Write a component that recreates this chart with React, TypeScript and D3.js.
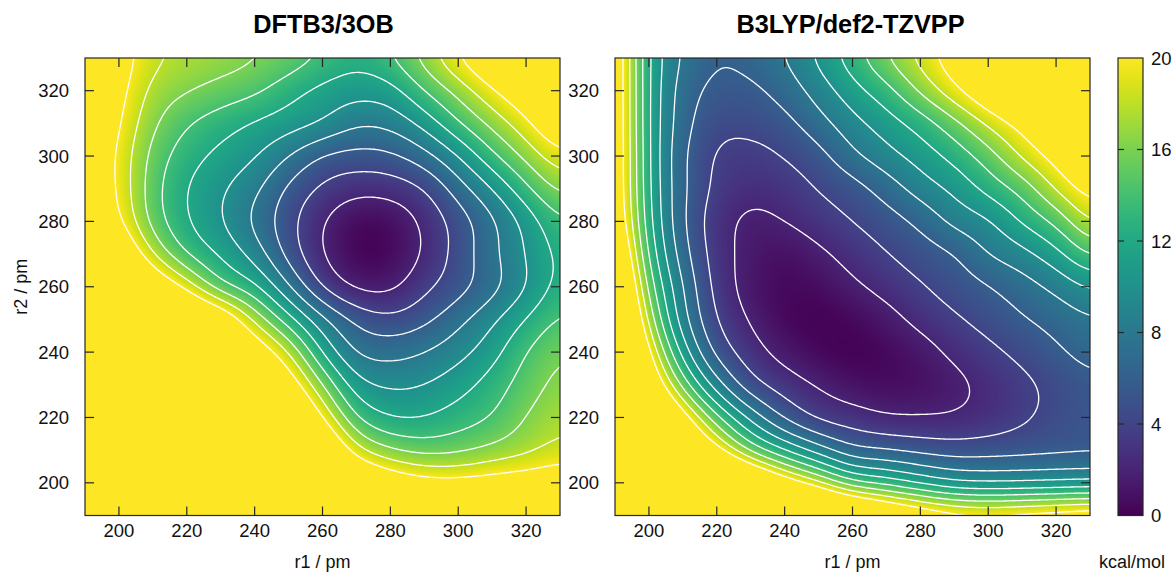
import React, { useMemo } from "react";
import * as d3 from "d3";

// ---------- data ----------
const R1_START = 190; // column 0 (pm)
const R2_START = 330; // row 0 (pm)
const GRID_STEP = 10; // pm
const AXIS_TICKS = [200, 220, 240, 260, 280, 300, 320];
const COLORBAR_TICKS = [0, 4, 8, 12, 16, 20];
const CONTOUR_LEVELS = [2, 4, 6, 8, 10, 12, 14, 16, 18, 20];
const PANEL_TITLES = ["DFTB3/3OB", "B3LYP/def2-TZVPP"];

// energies in kcal/mol; rows r2 = 330 ... 190, columns r1 = 190 ... 330
const DFTB3_ENERGY = [
  [26, 21.5, 18.5, 17.5, 16.9, 16.2, 15.2, 13.8, 12.7, 13.9, 16.75, 20, 23, 26, 29],
  [25, 20.9, 17.4, 16.15, 15.25, 14.4, 12.75, 11.4, 10.7, 11.2, 14, 16.7, 19.7, 22.5, 25.5],
  [24, 20.2, 16.35, 14.2, 12.9, 11.8, 10.95, 9.9, 8.3, 8.6, 10.7, 13.8, 16.6, 19.45, 22.8],
  [23, 19.6, 15.3, 12.9, 11.45, 10.2, 8, 5.85, 5.3, 5.6, 7.25, 10, 13.5, 16.55, 19.4],
  [23, 19.7, 14.8, 12, 10.3, 8.5, 5.6, 3.6, 2.6, 2.8, 4, 7, 10, 13.5, 16.5],
  [24, 20.5, 15.2, 12.15, 10.15, 7.6, 4.7, 2.1, 0.5, 0.6, 2.4, 4.9, 7.6, 10.7, 13.75],
  [28, 24, 18, 13.9, 11.7, 9.2, 5.3, 2, 0.3, 0.4, 2.2, 4.8, 7.5, 10.1, 12.6],
  [31, 28, 23.5, 19.25, 14.6, 12.4, 8.2, 3.8, 1.6, 1.5, 3.5, 5.2, 7.25, 9.9, 12.8],
  [34, 32, 29, 26, 23, 17.5, 12.8, 8.5, 5.5, 4.5, 5.5, 7.4, 9.6, 12.1, 14.3],
  [36, 34, 32, 29, 26, 22.5, 18, 11.8, 7.8, 7.3, 8, 9.3, 11.2, 14, 15.8],
  [38, 36, 34, 32, 29, 26, 22, 16, 10.8, 9.7, 10, 11.2, 12.9, 15, 16.6],
  [40, 38, 36, 34, 32, 29, 26, 20.1, 14, 12, 12, 13, 14.1, 16.1, 17.4],
  [42, 40, 38, 36, 34, 32, 29, 25, 18.7, 16.2, 15.3, 15.6, 16.5, 17.5, 18.7],
  [44, 42, 40, 38, 36, 34, 32, 29, 25, 22.5, 21, 20.8, 21.3, 21.7, 22],
  [46, 44, 42, 40, 38, 36, 34, 32, 29.5, 28, 27, 27, 26, 25.5, 24.7],
];

const B3LYP_ENERGY = [
  [23, 12.0, 7.7, 6.15, 6.6, 8, 10.4, 13, 15.9, 18.6, 21.5, 24, 27, 30, 33],
  [23, 12.0, 7.1, 5.5, 5.6, 6.8, 8.9, 11.2, 13.3, 16.3, 19.4, 22.5, 25.5, 28.5, 31.5],
  [23, 12.0, 6.8, 4.6, 4.6, 5.4, 7.2, 9.3, 11.05, 12.9, 15.4, 18.35, 21, 24, 27],
  [23, 12.1, 6.35, 3.8, 3.4, 4.1, 5.35, 7.5, 9.25, 10.85, 12.7, 15.1, 18.25, 21, 24],
  [23, 12.2, 6.4, 3.5, 2.6, 3.0, 4.1, 5.2, 6.9, 8.9, 10.5, 12.65, 14.8, 18.15, 21],
  [23.5, 12.6, 6.3, 2.9, 1.6, 2.0, 3.0, 4.0, 5.1, 6.5, 8.55, 9.8, 12.2, 14.55, 18],
  [25.5, 13.6, 6.9, 3.05, 1.3, 0.8, 1.6, 2.8, 3.9, 5.0, 6.0, 8.0, 9.35, 11.35, 14.2],
  [28, 15.2, 8.0, 3.35, 1.2, 0.4, 0.6, 1.6, 2.7, 3.8, 4.9, 5.9, 7.1, 8.55, 10.2],
  [30, 17.3, 8.85, 4.0, 1.8, 0.4, 0.1, 0.4, 1.3, 2.6, 3.7, 4.75, 5.8, 6.75, 7.8],
  [32, 20.4, 11.2, 5.45, 2.9, 1.3, 0.4, 0.05, 0.4, 1.2, 2.45, 3.5, 4.55, 5.65, 6.7],
  [34, 24, 15.3, 8.85, 4.8, 3.05, 1.8, 0.9, 0.6, 0.8, 1.5, 2.55, 3.55, 4.55, 5.5],
  [37, 29, 21.5, 14.55, 9.4, 5.75, 3.7, 2.9, 2.2, 2.1, 2.2, 2.8, 3.7, 4.6, 5.3],
  [39, 33, 27, 21, 15.5, 12, 9, 6.6, 6.1, 5.5, 5.1, 5.2, 5.4, 5.6, 5.75],
  [44, 40, 36, 32, 27, 22, 18.4, 14.6, 13.2, 11.6, 10.3, 10, 10.1, 10.3, 10.5],
  [50, 47, 45, 42, 38, 34, 30.5, 28, 25, 23, 21.5, 21, 21.5, 22, 22.5],
];

// ---------- layout ----------
const W = 1173;
const H = 574;
const PLOT_TOP = 58;
const PLOT_BOTTOM = 515.5;
const PANEL_X = [
  [85, 560],
  [615, 1090],
];
const SMOOTH_PM = [3.5, 3.0];
const LOG_INTERP = [false, true];
const CB_X0 = 1118;
const CB_X1 = 1143;
const FONT = "'Liberation Sans', Arial, Helvetica, sans-serif";
const FRAME = "#262626";
const RES = 0.5; // pm per field sample
const NF = Math.round(140 / RES) + 1;
const LOG_OFFSET = 4;

function catmull(p0: number, p1: number, p2: number, p3: number, t: number) {
  return (
    0.5 *
    (2 * p1 +
      (-p0 + p2) * t +
      (2 * p0 - 5 * p1 + 4 * p2 - p3) * t * t +
      (-p0 + 3 * p1 - 3 * p2 + p3) * t * t * t)
  );
}

function makeSampler(grid: number[][]) {
  const nr = grid.length;
  const nc = grid[0].length;
  const g = (j: number, i: number) =>
    grid[Math.max(0, Math.min(nr - 1, j))][Math.max(0, Math.min(nc - 1, i))];
  return (u: number, v: number) => {
    let i = Math.floor(u);
    let j = Math.floor(v);
    if (i >= nc - 1) i = nc - 2;
    if (j >= nr - 1) j = nr - 2;
    const tu = u - i;
    const tv = v - j;
    const r: number[] = [];
    for (let k = -1; k <= 2; k++) {
      r.push(catmull(g(j + k, i - 1), g(j + k, i), g(j + k, i + 1), g(j + k, i + 2), tu));
    }
    return catmull(r[0], r[1], r[2], r[3], tv);
  };
}

function blur(src: Float64Array, n: number, sigma: number) {
  const rad = Math.ceil(sigma * 3);
  const k: number[] = [];
  let sum = 0;
  for (let i = -rad; i <= rad; i++) {
    const w = Math.exp(-(i * i) / (2 * sigma * sigma));
    k.push(w);
    sum += w;
  }
  for (let i = 0; i < k.length; i++) k[i] /= sum;
  const tmp = new Float64Array(n * n);
  const out = new Float64Array(n * n);
  for (let y = 0; y < n; y++) {
    for (let x = 0; x < n; x++) {
      let s = 0;
      for (let d = -rad; d <= rad; d++) {
        const xx = Math.max(0, Math.min(n - 1, x + d));
        s += src[y * n + xx] * k[d + rad];
      }
      tmp[y * n + x] = s;
    }
  }
  for (let y = 0; y < n; y++) {
    for (let x = 0; x < n; x++) {
      let s = 0;
      for (let d = -rad; d <= rad; d++) {
        const yy = Math.max(0, Math.min(n - 1, y + d));
        s += tmp[yy * n + x] * k[d + rad];
      }
      out[y * n + x] = s;
    }
  }
  return out;
}

// field sampled every RES pm: index (row j, col i) -> r2 = 330 - j*RES, r1 = 190 + i*RES
function buildField(grid: number[][], smoothPm: number, useLog: boolean) {
  const src = useLog ? grid.map((row) => row.map((v) => Math.log(v + LOG_OFFSET))) : grid;
  const sample = makeSampler(src);
  const f = new Float64Array(NF * NF);
  for (let j = 0; j < NF; j++) {
    for (let i = 0; i < NF; i++) {
      let v = sample((i * RES) / GRID_STEP, (j * RES) / GRID_STEP);
      if (useLog) v = Math.exp(v) - LOG_OFFSET;
      f[j * NF + i] = Math.max(-1, Math.min(70, v));
    }
  }
  return blur(f, NF, smoothPm / RES);
}

function fieldAt(f: Float64Array, fx: number, fy: number) {
  const x = Math.max(0, Math.min(NF - 1.0001, fx));
  const y = Math.max(0, Math.min(NF - 1.0001, fy));
  const i = Math.floor(x);
  const j = Math.floor(y);
  const tx = x - i;
  const ty = y - j;
  const a = f[j * NF + i];
  const b = f[j * NF + i + 1];
  const c = f[(j + 1) * NF + i];
  const d = f[(j + 1) * NF + i + 1];
  return (a * (1 - tx) + b * tx) * (1 - ty) + (c * (1 - tx) + d * tx) * ty;
}

const LUT = d3.range(256).map((k) => d3.rgb(d3.interpolateViridis(k / 255)));

function heatmapURL(f: Float64Array, wPx: number, hPx: number) {
  const canvas = document.createElement("canvas");
  canvas.width = wPx;
  canvas.height = hPx;
  const ctx = canvas.getContext("2d");
  if (!ctx) return "";
  const img = ctx.createImageData(wPx, hPx);
  for (let py = 0; py < hPx; py++) {
    const r2 = 330 - ((py + 0.5) / hPx) * 140;
    const fy = (R2_START - r2) / RES;
    for (let px = 0; px < wPx; px++) {
      const r1 = 190 + ((px + 0.5) / wPx) * 140;
      const fx = (r1 - R1_START) / RES;
      const val = fieldAt(f, fx, fy);
      const t = Math.max(0, Math.min(1, val / 20));
      const c = LUT[Math.round(t * 255)];
      const o = (py * wPx + px) * 4;
      img.data[o] = c.r;
      img.data[o + 1] = c.g;
      img.data[o + 2] = c.b;
      img.data[o + 3] = 255;
    }
  }
  ctx.putImageData(img, 0, 0);
  return canvas.toDataURL();
}

function contourPaths(
  f: Float64Array,
  xs: d3.ScaleLinear<number, number>,
  ys: d3.ScaleLinear<number, number>
) {
  const cs = d3.contours().size([NF, NF]).thresholds(CONTOUR_LEVELS)(Array.from(f));
  return cs.map((c) => {
    let d = "";
    for (const poly of c.coordinates) {
      for (const ring of poly) {
        ring.forEach((pt, k) => {
          const r1 = R1_START + (pt[0] - 0.5) * RES;
          const r2 = R2_START - (pt[1] - 0.5) * RES;
          d += (k ? "L" : "M") + xs(r1).toFixed(2) + "," + ys(r2).toFixed(2);
        });
        d += "Z";
      }
    }
    return { level: c.value, d };
  });
}

export default function App() {
  const panels = useMemo(() => {
    return [DFTB3_ENERGY, B3LYP_ENERGY].map((grid, idx) => {
      const [x0, x1] = PANEL_X[idx];
      const xs = d3.scaleLinear().domain([190, 330]).range([x0, x1]);
      const ys = d3.scaleLinear().domain([190, 330]).range([PLOT_BOTTOM, PLOT_TOP]);
      const field = buildField(grid, SMOOTH_PM[idx], LOG_INTERP[idx]);
      const wPx = Math.round(x1 - x0);
      const hPx = Math.round(PLOT_BOTTOM - PLOT_TOP);
      return {
        idx,
        x0,
        x1,
        xs,
        ys,
        url: heatmapURL(field, wPx, hPx),
        paths: contourPaths(field, xs, ys),
      };
    });
  }, []);

  const cbScale = d3.scaleLinear().domain([0, 20]).range([PLOT_BOTTOM, PLOT_TOP]);
  const stops = d3.range(0, 1.0001, 0.05);
  const tickLen = 9;

  return (
    <svg
      width={W}
      height={H}
      style={{ position: "absolute", left: 0, top: 0, background: "#fff" }}
      fontFamily={FONT}
    >
      <defs>
        {panels.map((p) => (
          <clipPath id={`clip${p.idx}`} key={p.idx}>
            <rect x={p.x0} y={PLOT_TOP} width={p.x1 - p.x0} height={PLOT_BOTTOM - PLOT_TOP} />
          </clipPath>
        ))}
        <linearGradient id="cbgrad" x1="0" y1="1" x2="0" y2="0">
          {stops.map((s) => (
            <stop key={s} offset={s} stopColor={d3.interpolateViridis(s)} />
          ))}
        </linearGradient>
      </defs>
      <rect x={0} y={0} width={W} height={H} fill="#fff" />

      {panels.map((p) => (
        <g key={p.idx}>
          <image
            href={p.url}
            x={p.x0}
            y={PLOT_TOP}
            width={p.x1 - p.x0}
            height={PLOT_BOTTOM - PLOT_TOP}
            preserveAspectRatio="none"
          />
          <g clipPath={`url(#clip${p.idx})`}>
            {p.paths.map((c) => (
              <path key={c.level} d={c.d} fill="none" stroke="#fff" strokeWidth={1.3} />
            ))}
          </g>
          {AXIS_TICKS.map((t) => (
            <g key={`x${t}`} stroke={FRAME} strokeWidth={1.2}>
              <line x1={p.xs(t)} x2={p.xs(t)} y1={PLOT_BOTTOM} y2={PLOT_BOTTOM - tickLen} />
              <line x1={p.xs(t)} x2={p.xs(t)} y1={PLOT_TOP} y2={PLOT_TOP + tickLen} />
            </g>
          ))}
          {AXIS_TICKS.map((t) => (
            <g key={`y${t}`} stroke={FRAME} strokeWidth={1.2}>
              <line x1={p.x0} x2={p.x0 + tickLen} y1={p.ys(t)} y2={p.ys(t)} />
              <line x1={p.x1} x2={p.x1 - tickLen} y1={p.ys(t)} y2={p.ys(t)} />
            </g>
          ))}
          <rect
            x={p.x0}
            y={PLOT_TOP}
            width={p.x1 - p.x0}
            height={PLOT_BOTTOM - PLOT_TOP}
            fill="none"
            stroke={FRAME}
            strokeWidth={1.2}
          />
          {AXIS_TICKS.map((t) => (
            <text key={`xl${t}`} x={p.xs(t)} y={537} textAnchor="middle" fontSize={18.5} fill="#111">
              {t}
            </text>
          ))}
          {AXIS_TICKS.map((t) => (
            <text key={`yl${t}`} x={p.x0 - 16} y={p.ys(t) + 6.5} textAnchor="end" fontSize={18.5} fill="#111">
              {t}
            </text>
          ))}
          <text x={(p.x0 + p.x1) / 2} y={568} textAnchor="middle" fontSize={18} fill="#111">
            r1 / pm
          </text>
          <text
            x={(p.x0 + p.x1) / 2 + (p.idx === 0 ? 1 : -2)}
            y={33}
            textAnchor="middle"
            fontSize={25.3}
            fontWeight="bold"
            fill="#000"
          >
            {PANEL_TITLES[p.idx]}
          </text>
        </g>
      ))}

      <text
        transform={`translate(27, ${(PLOT_TOP + PLOT_BOTTOM) / 2}) rotate(-90)`}
        textAnchor="middle"
        fontSize={18}
        fill="#111"
      >
        r2 / pm
      </text>

      <rect
        x={CB_X0}
        y={PLOT_TOP}
        width={CB_X1 - CB_X0}
        height={PLOT_BOTTOM - PLOT_TOP}
        fill="url(#cbgrad)"
        stroke={FRAME}
        strokeWidth={1.2}
      />
      {COLORBAR_TICKS.map((t) => (
        <g key={`cb${t}`}>
          {t > 0 && t < 20 && (
            <g stroke={FRAME} strokeWidth={1.2}>
              <line x1={CB_X0} x2={CB_X0 + 6} y1={cbScale(t)} y2={cbScale(t)} />
              <line x1={CB_X1} x2={CB_X1 - 6} y1={cbScale(t)} y2={cbScale(t)} />
            </g>
          )}
          <text x={CB_X1 + 8} y={cbScale(t) + 6.5} fontSize={18.5} fill="#111">
            {t}
          </text>
        </g>
      ))}
      <text x={1132} y={568} textAnchor="middle" fontSize={18} fill="#111">
        kcal/mol
      </text>
    </svg>
  );
}
